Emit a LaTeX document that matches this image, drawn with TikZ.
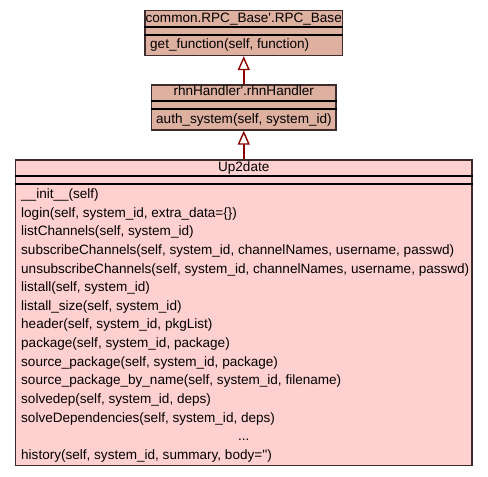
\documentclass[tikz,border=0pt]{standalone}
\usepackage{fontspec}
\setmainfont{Liberation Sans}
\usetikzlibrary{arrows.meta}
\definecolor{clsA}{HTML}{DEB0A0}
\definecolor{clsB}{HTML}{FFD0D0}
\definecolor{edgeC}{HTML}{3C2C2C}
\definecolor{inhC}{HTML}{8B0000}
\tikzset{
  umlbox/.style={draw=edgeC, line width=1.3pt, rectangle, inner sep=0pt, anchor=center},
  sepline/.style={draw=black, line width=1.6pt},
  mtxt/.style={anchor=base west, inner sep=0pt, font=\fontsize{13.55}{16}\selectfont},
  ttxt/.style={anchor=base, inner sep=0pt, font=\fontsize{13.55}{16}\selectfont},
  inh/.style={draw=inhC, line width=2.4pt, -{Triangle[fill=white, length=14pt, width=12pt, line width=1.4pt]}}
}
\begin{document}
\begin{tikzpicture}[x=1pt, y=-1pt]
\useasboundingbox (0,0) rectangle (488,477);
% boxes
\node[umlbox, fill=clsA, minimum width=197.5pt, minimum height=45pt] (b1) at (243.75,33) {};
\node[umlbox, fill=clsA, minimum width=184.5pt, minimum height=45pt] (b2) at (243.75,107.5) {};
\node[umlbox, fill=clsB, minimum width=456.5pt, minimum height=305.5pt] (b3) at (243.75,312.75) {};
% separators
\draw[sepline] (b1.west |- 0,26.7) -- (b1.east |- 0,26.7);
\draw[sepline] (b1.west |- 0,34.7) -- (b1.east |- 0,34.7);
\draw[sepline] (b2.west |- 0,101) -- (b2.east |- 0,101);
\draw[sepline] (b2.west |- 0,109) -- (b2.east |- 0,109);
\draw[sepline] (b3.west |- 0,175.7) -- (b3.east |- 0,175.7);
\draw[sepline] (b3.west |- 0,183.7) -- (b3.east |- 0,183.7);
% titles
\node[ttxt] (t1) at (243.75,22) {common.RPC\_Base\textquotesingle.RPC\_Base};
\node[ttxt] (t2) at (243.75,95.5) {rhnHandler\textquotesingle.rhnHandler};
\node[ttxt] (t3) at (243.75,171) {Up2date};
% methods
\node[mtxt] (m1) at (150,48.5) {get\_function(self, function)};
\node[mtxt] (m2) at (156,123) {auth\_system(self, system\_id)};
\foreach \i/\t in {0/{\_\_init\_\_(self)},
  1/{login(self, system\_id, extra\_data=\{\})},
  2/{listChannels(self, system\_id)},
  3/{subscribeChannels(self, system\_id, channelNames, username, passwd)},
  4/{unsubscribeChannels(self, system\_id, channelNames, username, passwd)},
  5/{listall(self, system\_id)},
  6/{listall\_size(self, system\_id)},
  7/{header(self, system\_id, pkgList)},
  8/{package(self, system\_id, package)},
  9/{source\_package(self, system\_id, package)},
  10/{source\_package\_by\_name(self, system\_id, filename)},
  11/{solvedep(self, system\_id, deps)},
  12/{solveDependencies(self, system\_id, deps)},
  14/{history(self, system\_id, summary, body=\textquotesingle\textquotesingle)}}
  {\node[mtxt] (u\i) at (21,198.5+18.64*\i) {\t};}
\node[ttxt] (u13) at (243.75,198.5+18.64*13) {...};
% inheritance
\draw[inh] (b2.north) -- (b1.south);
\draw[inh] (b3.north) -- (b2.south);
\end{tikzpicture}
\end{document}
